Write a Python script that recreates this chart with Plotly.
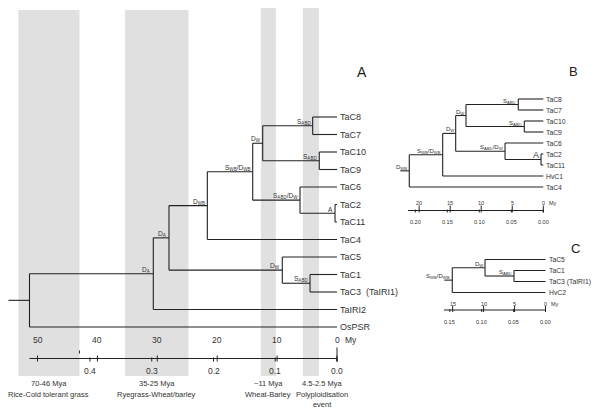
import plotly.graph_objects as go

# ---------------- data ----------------
# Panel A tree (branch positions in substitutions/site)
A_leaves = ["TaC8", "TaC7", "TaC10", "TaC9", "TaC6", "TaC2", "TaC11", "TaC4",
            "TaC5", "TaC1", "TaC3  (TaIRI1)", "TaIRI2", "OsPSR"]
A_leaf_parent = [6, 6, 7, 7, 8, 9, 9, 3, 10, 11, 11, 1, 0]
A_node_label = ["", "D<sub>A</sub>", "D<sub>A</sub>", "D<sub>WB</sub>",
                "S<sub>WB</sub>/D<sub>WB</sub>", "D<sub>W</sub>", "S<sub>ABD</sub>",
                "S<sub>ABD</sub>", "S<sub>ABD</sub>/D<sub>W</sub>", "A",
                "D<sub>W</sub>", "S<sub>ABD</sub>"]
A_node_dist = [0.498, 0.2975, 0.2721, 0.2100, 0.1365, 0.1203, 0.0394,
               0.0287, 0.0599, 0.0032, 0.0886, 0.0437]
A_node_parent = [-1, 0, 1, 2, 3, 4, 5, 5, 4, 8, 2, 10]

# Panel B tree
B_leaves = ["TaC8", "TaC7", "TaC10", "TaC9", "TaC6", "TaC2", "TaC11", "HvC1", "TaC4"]
B_leaf_parent = [4, 4, 5, 5, 6, 7, 7, 1, 0]
B_node_label = ["D<sub>WB</sub>", "S<sub>WB</sub>/D<sub>WB</sub>", "D<sub>W</sub>",
                "D<sub>W</sub>", "S<sub>ABD</sub>", "S<sub>ABD</sub>",
                "S<sub>ABD</sub>/D<sub>W</sub>", "<span style='font-size:9px'>A</span>"]
B_node_dist = [0.2094, 0.1572, 0.1369, 0.1208, 0.0391, 0.0297, 0.0598, 0.0036]
B_node_parent = [-1, 0, 1, 2, 3, 3, 2, 6]

# Panel C tree
C_leaves = ["TaC5", "TaC1", "TaC3 (TaIRI1)", "HvC2"]
C_leaf_parent = [1, 2, 2, 0]
C_node_label = ["S<sub>WB</sub>/D<sub>WB</sub>", "D<sub>W</sub>", "S<sub>ABD</sub>"]
C_node_dist = [0.1461, 0.0948, 0.0494]
C_node_parent = [-1, 0, 1]

# time scale
my_rate = 0.0097  # substitutions per million years
A_my_ticks = [50, 40, 30, 20, 10, 0]
A_dist_ticks = [0.4, 0.3, 0.2, 0.1, 0.0]
A_dist_labels = ["0.4", "0.3", "0.2", "0.1", "0.0"]
B_my_ticks = [20, 15, 10, 5, 0]
B_dist_ticks = [0.20, 0.15, 0.10, 0.05, 0.00]
B_dist_labels = ["0.20", "0.15", "0.10", "0.05", "0.00"]
C_my_ticks = [15, 10, 5, 0]
C_dist_ticks = [0.15, 0.10, 0.05, 0.00]
C_dist_labels = ["0.15", "0.10", "0.05", "0.00"]

# divergence bands (Mya, as drawn)
band_start_my = [53.2, 35.4, 12.7, 5.7]
band_end_my = [43.0, 24.8, 10.2, 3.0]
band_dates = ["70-46 Mya", "35-25 Mya", "~11 Mya", "4.5-2.5 Mya"]
band_names = ["Rice-Cold tolerant grass", "Ryegrass-Wheat/barley",
              "Wheat-Barley", "Polyploidisation<br>event"]

# ---------------- style / geometry ----------------
PAGE_W, PAGE_H = 600, 412
OFF = 8                      # page body margin
W, H = PAGE_W - OFF, PAGE_H - OFF
LINE = "#222222"
TXT = "#333333"
FONT = "Liberation Sans, Arial, sans-serif"
BAND = "#e0e0e0"


def tree_geometry(leaves, leaf_parent, node_dist, node_parent, y0, dy, stub):
    n = len(node_dist)
    leaf_y = [y0 + dy * i for i in range(len(leaves))]
    node_y = [None] * n

    def ny(k):
        if node_y[k] is None:
            ys = [leaf_y[i] for i, p in enumerate(leaf_parent) if p == k]
            ys += [ny(j) for j, p in enumerate(node_parent) if p == k]
            node_y[k] = (min(ys) + max(ys)) / 2
        return node_y[k]

    for k in range(n):
        ny(k)
    xs, ys = [], []
    for k in range(n):
        kids = [(0.0, leaf_y[i]) for i, p in enumerate(leaf_parent) if p == k]
        kids += [(node_dist[j], node_y[j]) for j, p in enumerate(node_parent) if p == k]
        kys = [c[1] for c in kids]
        xs += [node_dist[k], node_dist[k], None]
        ys += [min(kys), max(kys), None]
        for cx, cy in kids:
            xs += [node_dist[k], cx, None]
            ys += [cy, cy, None]
    root = node_parent.index(-1)
    xs += [node_dist[root] + stub, node_dist[root], None]
    ys += [node_y[root], node_y[root], None]
    return xs, ys, leaf_y, node_y


fig = go.Figure()
annotations = []
shapes = []


def add_text(text, x, y, xref, size, xanchor="center", yanchor="middle", xshift=0, yshift=0):
    annotations.append(dict(text=text, x=x, y=y, xref=xref, yref="y", showarrow=False,
                            xanchor=xanchor, yanchor=yanchor, xshift=xshift, yshift=yshift,
                            font=dict(family=FONT, size=size, color=TXT), borderpad=0))


def draw_tree(xaxis, leaves, leaf_parent, node_dist, node_parent, node_label,
              y0, dy, stub, leaf_size, node_size):
    xs, ys, leaf_y, node_y = tree_geometry(leaves, leaf_parent, node_dist, node_parent, y0, dy, stub)
    fig.add_trace(go.Scatter(x=xs, y=ys, mode="lines", xaxis=xaxis, yaxis="y",
                             line=dict(color=LINE, width=1.1), hoverinfo="skip", showlegend=False))
    for name, ly in zip(leaves, leaf_y):
        add_text(name, 0, ly, xaxis, leaf_size, xanchor="left", xshift=2)
    for lab, d, y in zip(node_label, node_dist, node_y):
        if lab:
            add_text(lab, d, y, xaxis, node_size, xanchor="right", yanchor="bottom", xshift=-1, yshift=-1)


def draw_scale(xaxis, start, y, my_ticks, dist_ticks, dist_labels, up, down,
               tick_up, tick_dn, size, end_tick=None, extra_my=None):
    xs = [start, 0, None]
    ys = [y, y, None]
    for m in my_ticks:
        xs += [m * my_rate, m * my_rate, None]
        ys += [y - tick_up, y + tick_dn, None]
    for d in dist_ticks:
        xs += [d, d, None]
        ys += [y - 1, y + tick_dn, None]
    if end_tick:
        xs += [0, 0, None]
        ys += [y - end_tick, y + tick_dn, None]
    if extra_my:
        xs += [extra_my * my_rate, extra_my * my_rate, None]
        ys += [y - 8, y - 5, None]
    fig.add_trace(go.Scatter(x=xs, y=ys, mode="lines", xaxis=xaxis, yaxis="y",
                             line=dict(color=LINE, width=1), hoverinfo="skip", showlegend=False))
    for m in my_ticks:
        add_text(str(m), m * my_rate, y - up, xaxis, size)
    add_text("My", 0, y - up, xaxis, size, xanchor="left", xshift=size * 0.8)
    for d, lab in zip(dist_ticks, dist_labels):
        add_text(lab, d, y + down, xaxis, size)


# ---- Panel A ----
for s, e in zip(band_start_my, band_end_my):
    top = 10 if s > 20 else 7
    shapes.append(dict(type="rect", xref="x", yref="y", x0=s * my_rate, x1=e * my_rate,
                       y0=top, y1=376, fillcolor=BAND, line=dict(width=0), layer="below"))
band_shift = [0, 0, 0, 11]
for s, e, dt, nm, sh in zip(band_start_my, band_end_my, band_dates, band_names, band_shift):
    cx = (s + e) / 2 * my_rate
    add_text(dt, cx, 383, "x", 7.5, xshift=sh)
    add_text(nm, cx, 388.5, "x", 7.5, yanchor="top", xshift=sh)

draw_tree("x", A_leaves, A_leaf_parent, A_node_dist, A_node_parent, A_node_label,
          117, 17.5, 0.034, 9, 6.5)
draw_scale("x", 0.498, 358.5, A_my_ticks, A_dist_ticks, A_dist_labels,
           19, 12.5, 3, 3, 8.5, end_tick=11, extra_my=43)

# ---- Panel B ----
draw_tree("x2", B_leaves, B_leaf_parent, B_node_dist, B_node_parent, B_node_label,
          99, 11, 0.014, 6.8, 6)
draw_scale("x2", 0.2114, 210.5, B_my_ticks, B_dist_ticks, B_dist_labels,
           7.5, 11.5, 5, 2, 5.5)

# ---- Panel C ----
draw_tree("x3", C_leaves, C_leaf_parent, C_node_dist, C_node_parent, C_node_label,
          259.5, 11, 0.0125, 6.8, 6)
draw_scale("x3", 0.1591, 310, C_my_ticks, C_dist_ticks, C_dist_labels,
           6, 12, 4, 2, 5.5)

# panel letters
for letter, px, py, sz in [("A", 361.7, 71.7, 14), ("B", 573.3, 71.7, 13), ("C", 575, 248.3, 13)]:
    annotations.append(dict(text=letter, x=(px - OFF) / W, y=py, xref="paper", yref="y", showarrow=False,
                            xanchor="center", yanchor="middle",
                            font=dict(family=FONT, size=sz, color="#222")))

hidden = dict(visible=False, showgrid=False, zeroline=False, fixedrange=True)
fig.update_layout(
    width=W, height=H, margin=dict(l=0, r=0, t=0, b=0),
    paper_bgcolor="white", plot_bgcolor="white",
    xaxis=dict(domain=[0, 1], range=[(337 - OFF) / 617.5, (337 - PAGE_W) / 617.5], anchor="y", **hidden),
    xaxis2=dict(domain=[0, 1], range=[(543.3 - OFF) / 640, (543.3 - PAGE_W) / 640], anchor="y",
                overlaying="x", **hidden),
    xaxis3=dict(domain=[0, 1], range=[(545.5 - OFF) / 638, (545.5 - PAGE_W) / 638], anchor="y",
                overlaying="x", **hidden),
    yaxis=dict(domain=[0, 1], range=[PAGE_H, OFF], **hidden),
    annotations=annotations, shapes=shapes, showlegend=False,
)
fig.write_html("out.html")
